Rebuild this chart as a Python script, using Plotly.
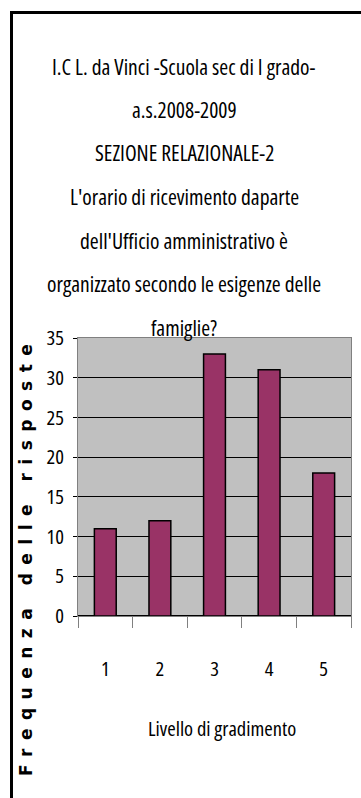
import plotly.graph_objects as go

# Survey data: answer level and number of responses
levels = ["1", "2", "3", "4", "5"]
counts = [11, 12, 33, 31, 18]

title_lines = [
    "I.C L. da Vinci -Scuola sec di I grado-",
    "a.s.2008-2009",
    "SEZIONE RELAZIONALE-2",
    "L'orario di ricevimento daparte",
    "dell'Ufficio amministrativo è",
    "organizzato secondo le esigenze delle",
    "famiglie?",
]
x_title = "Livello di gradimento"
y_title = "Frequenza delle risposte"
y_ticks = [0, 5, 10, 15, 20, 25, 30, 35]

W, H = 361, 798
L, R, T, B = 78, 10, 338, 182
PW, PH = W - L - R, H - T - B

FONT = "Open Sans"


def narrow(s):
    # condensed width of the variable Open Sans face
    return f"<span style='font-stretch:condensed'>{s}</span>"


def px_x(X):
    return (X - L) / PW


def px_y(Y):
    return (H - B - Y) / PH


fig = go.Figure(
    go.Bar(
        x=levels,
        y=counts,
        marker=dict(color="#993366", line=dict(color="black", width=1.5)),
        width=0.4,
    )
)

annotations = []
first, last = 66, 327
step = (last - first) / (len(title_lines) - 1)
for i, line in enumerate(title_lines):
    annotations.append(
        dict(
            text=narrow(line),
            x=px_x(184),
            y=px_y(first + i * step),
            xref="paper",
            yref="paper",
            xanchor="center",
            yanchor="middle",
            showarrow=False,
            font=dict(family=FONT, size=21.5, color="black", weight=500),
        )
    )

annotations.append(
    dict(
        text=f"<span style='letter-spacing:8.5px'>{y_title}</span>",
        x=px_x(26),
        y=px_y(556),
        xref="paper",
        yref="paper",
        xanchor="center",
        yanchor="middle",
        textangle=-90,
        showarrow=False,
        font=dict(family="DejaVu Sans", size=17, color="black", weight="bold"),
    )
)

annotations.append(
    dict(
        text=narrow(x_title),
        x=px_x(222),
        y=px_y(728),
        xref="paper",
        yref="paper",
        xanchor="center",
        yanchor="middle",
        showarrow=False,
        font=dict(family=FONT, size=20.5, color="black", weight=500),
    )
)

fig.update_layout(
    width=W,
    height=H,
    margin=dict(l=L, r=R, t=T, b=B, pad=0),
    paper_bgcolor="white",
    plot_bgcolor="#c0c0c0",
    showlegend=False,
    annotations=annotations,
    shapes=[
        dict(
            type="rect",
            xref="paper",
            yref="paper",
            x0=px_x(11.5),
            x1=px_x(420),
            y0=px_y(12.5),
            y1=px_y(900),
            line=dict(color="black", width=3),
            fillcolor="rgba(0,0,0,0)",
        )
    ],
)

fig.update_xaxes(
    type="category",
    tickson="boundaries",
    tickvals=levels,
    ticktext=[narrow(v) for v in levels],
    ticks="outside",
    ticklen=11,
    tickwidth=1,
    tickcolor="#808080",
    ticklabelstandoff=34,
    showgrid=False,
    showline=True,
    linecolor="#808080",
    linewidth=1,
    mirror=True,
    tickfont=dict(family=FONT, size=20.5, color="black"),
)

fig.update_yaxes(
    range=[0, 35],
    tickvals=y_ticks,
    ticktext=[narrow(v) for v in y_ticks],
    ticks="outside",
    ticklen=4,
    tickwidth=1,
    tickcolor="black",
    ticklabelstandoff=5,
    showgrid=True,
    gridcolor="black",
    gridwidth=1,
    zeroline=True,
    zerolinecolor="black",
    zerolinewidth=1.5,
    showline=True,
    linecolor="#808080",
    linewidth=1,
    mirror=True,
    tickfont=dict(family=FONT, size=20.5, color="black"),
)

fig.write_html("out.html")
